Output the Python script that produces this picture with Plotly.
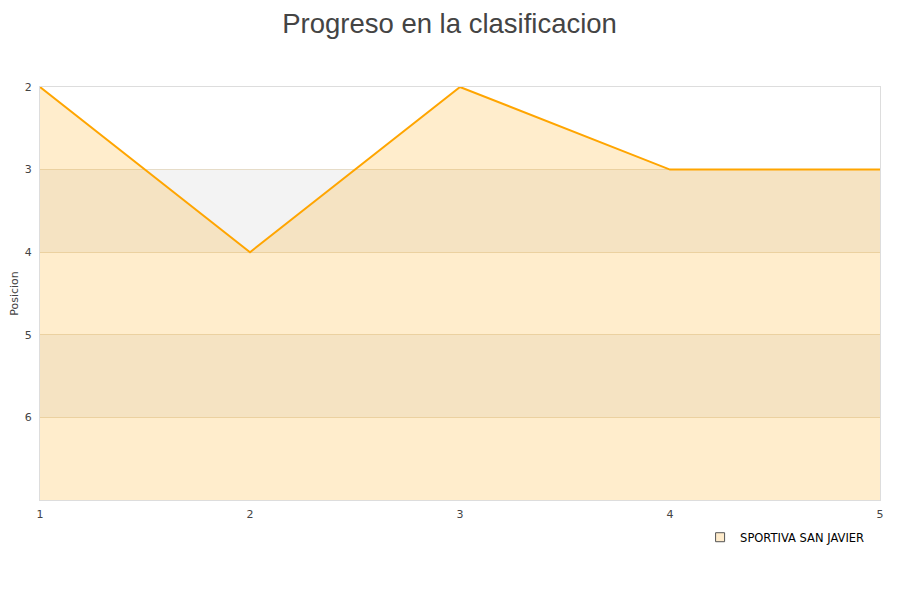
import plotly.graph_objects as go

jornadas = [1, 2, 3, 4, 5]
posiciones = [2, 4, 2, 3, 3]
equipo = "SPORTIVA SAN JAVIER"
y_ticks = [2, 3, 4, 5, 6]
y_min, y_max = 2, 7

fig = go.Figure()

# baseline for the area fill (bottom of reversed axis)
fig.add_trace(go.Scatter(x=jornadas, y=[y_max] * len(jornadas), mode="lines",
                         line=dict(width=0, color="rgba(0,0,0,0)"),
                         showlegend=False, hoverinfo="skip"))
fig.add_trace(go.Scatter(x=jornadas, y=posiciones, mode="lines", fill="tonexty",
                         fillcolor="rgba(255,165,0,0.2)",
                         line=dict(color="#FFA500", width=2),
                         name=equipo, showlegend=False))
# legend-only marker
fig.add_trace(go.Scatter(x=[None], y=[None], mode="markers", name=equipo,
                         marker=dict(symbol="square", size=9, color="#FFECCC",
                                     line=dict(color="#555555", width=1))))

shapes = []
for lo in range(y_min, y_max):
    if lo % 2 == 1:
        shapes.append(dict(type="rect", xref="paper", yref="y", x0=0, x1=1,
                           y0=lo, y1=lo + 1, fillcolor="#F3F3F3",
                           line=dict(width=0), layer="below"))

fig.update_layout(
    width=900, height=600,
    paper_bgcolor="white", plot_bgcolor="white",
    margin=dict(l=32, r=28, t=79, b=108, autoexpand=False),
    title=dict(text="Progreso en la clasificacion", x=0.4906, xanchor="center",
               y=0.99, yanchor="top", yref="container", pad=dict(t=0, b=0),
               font=dict(family="Liberation Sans, Arial", size=27.5, color="#444444")),
    font=dict(family="DejaVu Sans, Verdana", size=11, color="#444444"),
    shapes=shapes,
    showlegend=True,
    legend=dict(x=0.987, xanchor="right", y=-0.055, yanchor="top",
                font=dict(size=11.5, color="#000000"), bgcolor="rgba(0,0,0,0)",
                itemwidth=30),
)

fig.update_xaxes(range=[1, 5], tickvals=jornadas, showgrid=False, zeroline=False,
                 showline=True, linecolor="#DDDDDD", mirror=True, ticklabelstandoff=4,
                 ticks="", tickfont=dict(size=11, color="#444444"))
fig.update_yaxes(range=[y_max, y_min], tickvals=y_ticks, showgrid=True,
                 gridcolor="#E6DCC8", zeroline=False, automargin=False,
                 showline=True, linecolor="#DDDDDD", mirror=True, ticks="",
                 ticklabelstandoff=5,
                 title=dict(text="Posicion", font=dict(size=11, color="#444444"), standoff=10),
                 tickfont=dict(size=11, color="#444444"))

fig.write_html("out.html")
